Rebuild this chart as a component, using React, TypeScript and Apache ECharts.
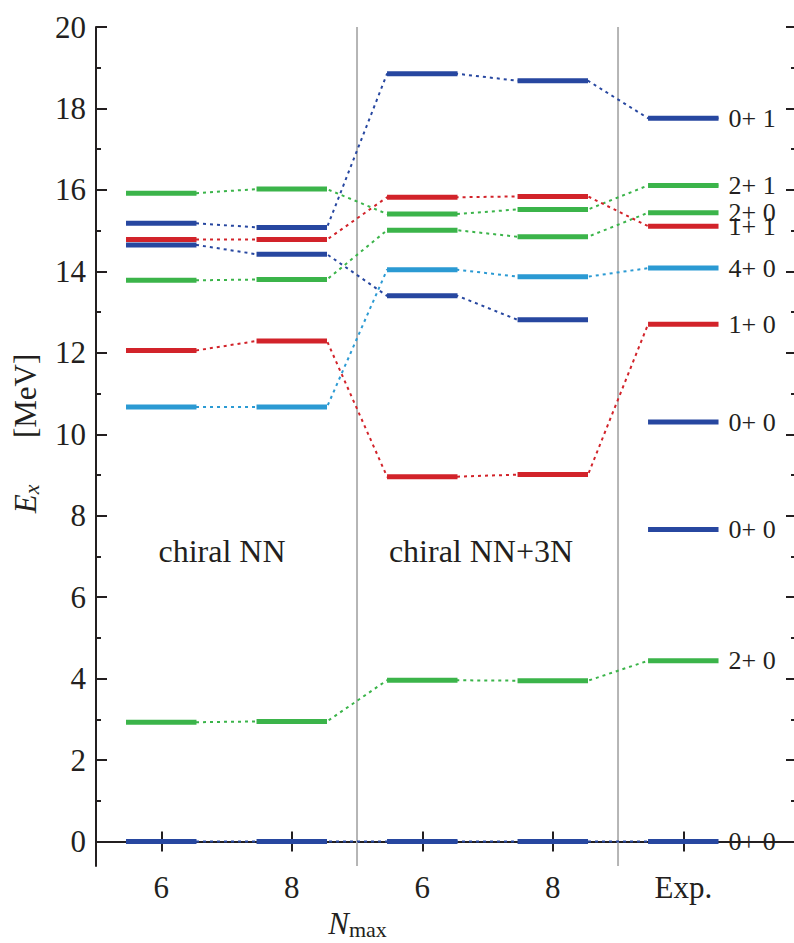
import React, { useEffect, useRef } from "react";
import * as echarts from "echarts";

// ---- data ----
const xPositions = [1, 2, 3, 4, 5];
const xTickLabels = ["6", "8", "6", "8", "Exp."];
const yMajorTicks = [0, 2, 4, 6, 8, 10, 12, 14, 16, 18, 20];
const yMinorTicks = [1, 3, 5, 7, 9, 11, 13, 15, 17, 19];

// level energies per column: NN(6), NN(8), NN+3N(6), NN+3N(8), Exp.
const level0p1 = [15.18, 15.08, 18.85, 18.68, 17.76];
const level2p1 = [15.92, 16.02, 15.41, 15.52, 16.11];
const level2p0b = [13.78, 13.8, 15.01, 14.85, 15.44];
const level1p1 = [14.78, 14.78, 15.82, 15.84, 15.11];
const level4p0 = [10.67, 10.67, 14.04, 13.87, 14.08];
const level1p0 = [12.06, 12.29, 8.96, 9.01, 12.7];
const level0p0c = [14.65, 14.42, 13.4, 12.81, null];
const level0p0b = [null, null, null, null, 10.3];
const level0p0a = [null, null, null, null, 7.66];
const level2p0 = [2.93, 2.95, 3.96, 3.95, 4.44];
const level0p0 = [0, 0, 0, 0, 0];

const expLabels = ["0+ 1", "2+ 1", "2+ 0", "1+ 1", "4+ 0", "1+ 0", "", "0+ 0", "0+ 0", "2+ 0", "0+ 0"];

const BLUE = "#2747a0";
const RED = "#d2232a";
const GREEN = "#3bb44a";
const LBLUE = "#2b9ad3";
const GRAY = "#b5b5b5";
const TEXT = "#231f20";
const FONT = "Liberation Serif";

const chains = [
  { values: level0p1, color: BLUE },
  { values: level2p1, color: GREEN },
  { values: level2p0b, color: GREEN },
  { values: level1p1, color: RED },
  { values: level4p0, color: LBLUE },
  { values: level1p0, color: RED },
  { values: level0p0c, color: BLUE },
  { values: level0p0b, color: BLUE },
  { values: level0p0a, color: BLUE },
  { values: level2p0, color: GREEN },
  { values: level0p0, color: BLUE },
];

const HALF = 0.27;
const Y_MIN = -0.6;
const Y_MAX = 20;
const X_MIN = 0.5;
const X_MAX = 5.856;

export default function App() {
  const ref = useRef<HTMLDivElement>(null);

  useEffect(() => {
    if (!ref.current) return;
    const chart = echarts.init(ref.current, undefined, { renderer: "svg" });

    const barItems: { x: number; y: number; color: string; label: string }[] = [];
    chains.forEach((c, ci) => {
      c.values.forEach((v, i) => {
        if (v === null) return;
        barItems.push({
          x: xPositions[i],
          y: v as number,
          color: c.color,
          label: i === xPositions.length - 1 ? expLabels[ci] : "",
        });
      });
    });

    const connectorSeries = chains
      .filter((c) => c.values.filter((v) => v !== null).length > 1)
      .map((c) => {
        const pts: number[][] = [];
        c.values.forEach((v, i) => {
          if (v === null) return;
          pts.push([xPositions[i] - HALF, v as number]);
          pts.push([xPositions[i] + HALF, v as number]);
        });
        return {
          type: "line",
          data: pts,
          symbol: "none",
          silent: true,
          z: 2,
          lineStyle: { color: c.color, width: 2, type: [3, 4] },
        };
      });

    const option: any = {
      animation: false,
      backgroundColor: "#ffffff",
      grid: { left: 96, top: 27, right: -1, bottom: 77, outerBoundsMode: "none", containLabel: false },
      xAxis: [
        {
          type: "value",
          min: X_MIN,
          max: X_MAX,
          position: "bottom",
          axisLine: { show: true, lineStyle: { color: TEXT, width: 2 } },
          axisTick: { show: true, inside: true, length: 10, customValues: xPositions, lineStyle: { color: TEXT, width: 2 } },
          axisLabel: {
            show: true,
            customValues: xPositions,
            formatter: (v: number) => xTickLabels[xPositions.indexOf(Math.round(v))] ?? "",
            fontFamily: FONT,
            fontSize: 31,
            color: TEXT,
            margin: 6,
          },
          splitLine: { show: false },
          name: "{n|N}{s|max}",
          nameLocation: "middle",
          nameGap: 40,
          nameTextStyle: {
            rich: {
              n: { fontFamily: FONT, fontStyle: "italic", fontSize: 31, color: TEXT },
              s: { fontFamily: FONT, fontSize: 22, color: TEXT, padding: [12, 176, 0, 0] },
            },
          },
        },
        {
          type: "value",
          min: X_MIN,
          max: X_MAX,
          position: "top",
          axisLine: { show: true, lineStyle: { color: TEXT, width: 2 } },
          axisTick: { show: true, inside: true, length: 10, customValues: xPositions, lineStyle: { color: TEXT, width: 2 } },
          axisLabel: { show: false },
          splitLine: { show: false },
        },
      ],
      yAxis: [
        {
          type: "value",
          min: Y_MIN,
          max: Y_MAX,
          position: "left",
          axisLine: { show: true, lineStyle: { color: TEXT, width: 2 } },
          axisTick: { show: true, inside: true, length: 11, customValues: yMajorTicks, lineStyle: { color: TEXT, width: 2 } },
          axisLabel: {
            show: true,
            customValues: yMajorTicks,
            fontFamily: FONT,
            fontSize: 31,
            color: TEXT,
            margin: 10,
          },
          splitLine: { show: false },
          name: "{e|E}{x|x}{m|      [MeV]}",
          nameLocation: "middle",
          nameRotate: 90,
          nameGap: 54,
          nameTextStyle: {
            rich: {
              e: { fontFamily: FONT, fontStyle: "italic", fontSize: 31, color: TEXT, padding: [0, 0, 0, 26] },
              x: { fontFamily: FONT, fontStyle: "italic", fontSize: 22, color: TEXT, padding: [12, 0, 0, 0] },
              m: { fontFamily: FONT, fontSize: 31, color: TEXT },
            },
          },
        },
        {
          type: "value",
          min: Y_MIN,
          max: Y_MAX,
          position: "left",
          axisLine: { show: false },
          axisTick: { show: true, inside: true, length: 5, customValues: yMinorTicks, lineStyle: { color: TEXT, width: 2 } },
          axisLabel: { show: false },
          splitLine: { show: false },
        },
        {
          type: "value",
          min: Y_MIN,
          max: Y_MAX,
          position: "right",
          axisLine: { show: true, lineStyle: { color: TEXT, width: 2 } },
          axisTick: { show: true, inside: true, length: 9, customValues: yMajorTicks, lineStyle: { color: TEXT, width: 2 } },
          axisLabel: { show: false },
          splitLine: { show: false },
        },
        {
          type: "value",
          min: Y_MIN,
          max: Y_MAX,
          position: "right",
          axisLine: { show: false },
          axisTick: { show: true, inside: true, length: 4, customValues: yMinorTicks, lineStyle: { color: TEXT, width: 2 } },
          axisLabel: { show: false },
          splitLine: { show: false },
        },
      ],
      graphic: [
        {
          type: "text",
          x: 222,
          y: 551,
          style: { text: "chiral NN", fontFamily: FONT, fontSize: 32, fill: TEXT, align: "center", verticalAlign: "middle" },
        },
        {
          type: "text",
          x: 481,
          y: 551,
          style: { text: "chiral NN+3N", fontFamily: FONT, fontSize: 32, fill: TEXT, align: "center", verticalAlign: "middle" },
        },
      ],
      series: [
        {
          type: "line",
          data: [[2.5, Y_MIN], [2.5, Y_MAX]],
          symbol: "none",
          silent: true,
          z: 1,
          lineStyle: { color: GRAY, width: 2 },
        },
        {
          type: "line",
          data: [[4.5, Y_MIN], [4.5, Y_MAX]],
          symbol: "none",
          silent: true,
          z: 1,
          lineStyle: { color: GRAY, width: 2 },
        },
        ...connectorSeries,
        {
          type: "custom",
          z: 3,
          silent: true,
          data: barItems.map((b) => [b.x, b.y]),
          renderItem: (params: any, api: any) => {
            const x = api.value(0);
            const y = api.value(1);
            const p1 = api.coord([x - HALF, y]);
            const p2 = api.coord([x + HALF, y]);
            const item = barItems[params.dataIndex];
            const children: any[] = [
              {
                type: "line",
                shape: { x1: p1[0], y1: p1[1], x2: p2[0], y2: p2[1] },
                style: { stroke: item.color, lineWidth: 5 },
              },
            ];
            if (item.label) {
              children.push({
                type: "text",
                x: p2[0] + 10,
                y: p2[1],
                style: {
                  text: item.label,
                  fontFamily: FONT,
                  fontSize: 26,
                  fill: TEXT,
                  align: "left",
                  verticalAlign: "middle",
                },
              });
            }
            return { type: "group", children };
          },
        },
      ],
    };

    chart.setOption(option);
    return () => chart.dispose();
  }, []);

  return <div ref={ref} style={{ width: 794, height: 943, position: "absolute", left: 0, top: 0 }} />;
}
